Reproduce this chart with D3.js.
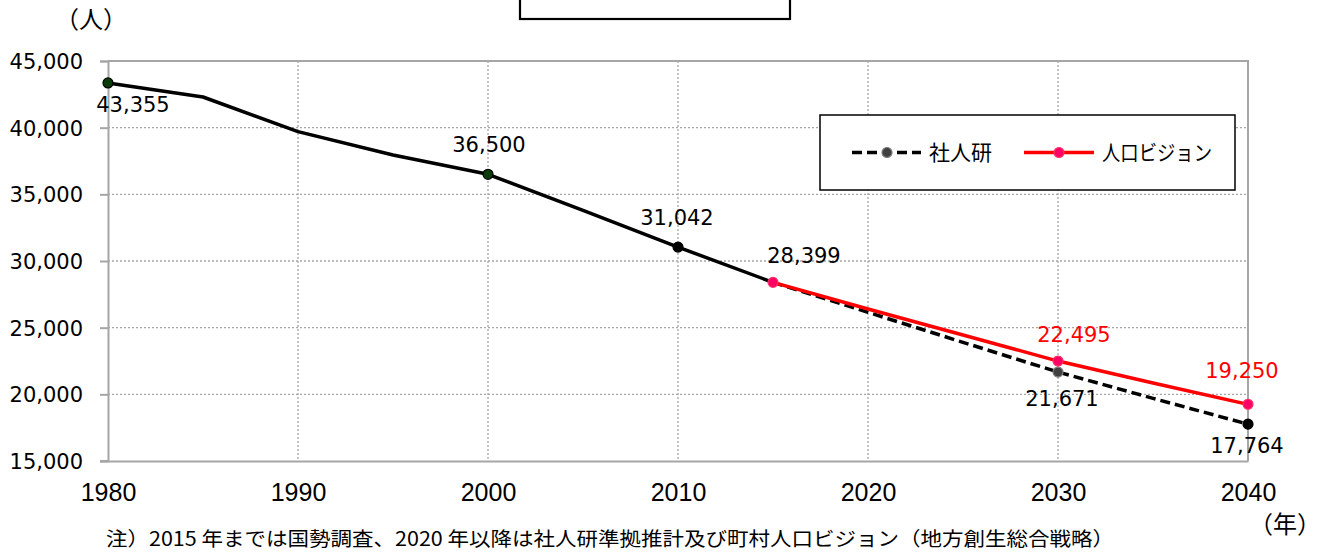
<!DOCTYPE html>
<html><head><meta charset="utf-8">
<script src="https://cdn.jsdelivr.net/npm/d3@7"></script>
<style>
html,body{margin:0;padding:0;background:#fff;overflow:hidden;}
svg{display:block;}
</style></head>
<body>
<svg id="chart" width="1321" height="554"></svg>
<script>
// ---- data ----
const histYears   = [1980, 1985, 1990, 1995, 2000, 2005, 2010, 2015];
const histValues  = [43355, 42300, 39700, 37950, 36500, 33800, 31042, 28399];
const projYears   = [2015, 2020, 2025, 2030, 2035, 2040];
const ipssValues  = [28399, 26150, 23900, 21671, 19700, 17764];   // 社人研
const visionValues= [28399, 26400, 24450, 22495, 20850, 19250];   // 人口ビジョン
const yTicks = [15000, 20000, 25000, 30000, 35000, 40000, 45000];
const xTicks = [1980, 1990, 2000, 2010, 2020, 2030, 2040];
const seriesNames = ["社人研", "人口ビジョン"];
const unitY = "（人）";
const unitX = "（年）";
const note = "注）2015 年までは国勢調査、2020 年以降は社人研準拠推計及び町村人口ビジョン（地方創生総合戦略）";

// ---- layout ----
const svg = d3.select("#chart");
const x = d3.scaleLinear().domain([1980, 2040]).range([108, 1248]);
const y = d3.scaleLinear().domain([15000, 45000]).range([461, 61]);
const numFont = "'DejaVu Sans', Verdana, sans-serif";
const jpFont = "'Noto Sans CJK JP', sans-serif";
const fmt = d3.format(",");
const gridCol = "#a6a6a6";

// title box (clipped at top)
svg.append("rect").attr("x", 520).attr("y", -40).attr("width", 270).attr("height", 59)
  .attr("fill", "none").attr("stroke", "#000").attr("stroke-width", 2.2);

// grid
const g = svg.append("g");
g.selectAll(".hg").data(yTicks.filter(v => v > 15000 && v < 45000)).join("line")
  .attr("x1", x(1980)).attr("x2", x(2040)).attr("y1", d => y(d)).attr("y2", d => y(d))
  .attr("stroke", gridCol).attr("stroke-width", 1.3).attr("stroke-dasharray", "2,2");
g.selectAll(".vg").data(xTicks.filter(v => v > 1980 && v < 2040)).join("line")
  .attr("y1", y(45000)).attr("y2", y(15000)).attr("x1", d => x(d)).attr("x2", d => x(d))
  .attr("stroke", gridCol).attr("stroke-width", 1.3).attr("stroke-dasharray", "2,2");

// frame: top & right
svg.append("path")
  .attr("d", `M${x(1980)},${y(45000)}H${x(2040)}V${y(15000)}`)
  .attr("fill", "none").attr("stroke", gridCol).attr("stroke-width", 2);

// axes
const yAxis = d3.axisLeft(y).tickValues(yTicks).tickFormat(fmt).tickSize(8).tickPadding(17);
const ya = svg.append("g").attr("transform", `translate(${x(1980)},0)`).call(yAxis);
ya.select(".domain").attr("stroke", gridCol).attr("stroke-width", 2);
ya.selectAll(".tick line").attr("stroke", gridCol).attr("stroke-width", 2);
ya.selectAll(".tick text").attr("font-family", numFont).attr("font-size", 21).attr("fill", "#000")
  .attr("dy", "0.36em");

const xAxis = d3.axisBottom(x).tickValues(xTicks).tickFormat(d3.format("d")).tickSize(0).tickPadding(22);
const xa = svg.append("g").attr("transform", `translate(0,${y(15000)})`).call(xAxis);
xa.select(".domain").attr("stroke", gridCol).attr("stroke-width", 2);
xa.selectAll(".tick text").attr("font-family", "'Liberation Sans Narrow', 'Liberation Sans', sans-serif")
  .attr("font-size", 25).attr("fill", "#000");
svg.append("line").attr("x1", 100).attr("x2", x(1980)).attr("y1", y(15000)).attr("y2", y(15000))
  .attr("stroke", gridCol).attr("stroke-width", 2);

// lines
const line = d3.line().x(d => x(d[0])).y(d => y(d[1]));
const hist = d3.zip(histYears, histValues);
const ipss = d3.zip(projYears, ipssValues);
const vis  = d3.zip(projYears, visionValues);

svg.append("path").attr("d", line(hist)).attr("fill", "none").attr("stroke", "#000")
  .attr("stroke-width", 3.5).attr("stroke-linejoin", "round");
svg.append("path").attr("d", line(ipss)).attr("fill", "none").attr("stroke", "#000")
  .attr("stroke-width", 3.5).attr("stroke-dasharray", "10,5");
svg.append("path").attr("d", line(vis)).attr("fill", "none").attr("stroke", "#ff0000")
  .attr("stroke-width", 3.5);

// markers
const dot = (px, py, fill, stroke) => svg.append("circle").attr("cx", px).attr("cy", py).attr("r", 5)
  .attr("fill", fill).attr("stroke", stroke).attr("stroke-width", 1.2);
const hv = yr => histValues[histYears.indexOf(yr)];
const iv = yr => ipssValues[projYears.indexOf(yr)];
const vv = yr => visionValues[projYears.indexOf(yr)];
dot(x(1980), y(hv(1980)), "#0b3d0b", "#000");
dot(x(2000), y(hv(2000)), "#0b3d0b", "#000");
dot(x(2010), y(hv(2010)), "#000", "#000");
dot(x(2030), y(iv(2030)), "#404040", "#808080");
dot(x(2040), y(iv(2040)), "#000", "#000");
dot(x(2015), y(vv(2015)), "#ff0066", "#ff3366");
dot(x(2030), y(vv(2030)), "#ff0066", "#ff3366");
dot(x(2040), y(vv(2040)), "#ff0066", "#ff3366");

// data labels
const label = (px, py, dx, dy, text, col) => svg.append("text").attr("x", px + dx).attr("y", py + dy)
  .attr("text-anchor", "middle").attr("font-family", numFont).attr("font-size", 21).attr("fill", col).text(text);
label(x(1980), y(hv(1980)), 25, 29, fmt(hv(1980)), "#000");
label(x(2000), y(hv(2000)), 1, -22, fmt(hv(2000)), "#000");
label(x(2010), y(hv(2010)), -1, -22, fmt(hv(2010)), "#000");
label(x(2015), y(hv(2015)), 31, -19, fmt(hv(2015)), "#000");
label(x(2030), y(iv(2030)), 4, 34, fmt(iv(2030)), "#000");
label(x(2040), y(iv(2040)), -1, 29, fmt(iv(2040)), "#000");
label(x(2030), y(vv(2030)), 16, -19, fmt(vv(2030)), "#ff0000");
label(x(2040), y(vv(2040)), -6, -26, fmt(vv(2040)), "#ff0000");

// legend
const lg = svg.append("g");
lg.append("rect").attr("x", 820).attr("y", 115).attr("width", 415).attr("height", 75)
  .attr("fill", "#fff").attr("stroke", "#000").attr("stroke-width", 1.5);
lg.append("line").attr("x1", 852).attr("x2", 921).attr("y1", 152.5).attr("y2", 152.5)
  .attr("stroke", "#000").attr("stroke-width", 3.5).attr("stroke-dasharray", "10,5");
lg.append("circle").attr("cx", 887).attr("cy", 152.5).attr("r", 5).attr("fill", "#404040")
  .attr("stroke", "#808080").attr("stroke-width", 1.2);
lg.append("text").attr("x", 929).attr("y", 160).attr("font-family", jpFont).attr("font-size", 21)
  .attr("fill", "#000").text(seriesNames[0]);
lg.append("line").attr("x1", 1024).attr("x2", 1094).attr("y1", 152.5).attr("y2", 152.5)
  .attr("stroke", "#ff0000").attr("stroke-width", 3.5);
lg.append("circle").attr("cx", 1059).attr("cy", 152.5).attr("r", 5).attr("fill", "#ff0066")
  .attr("stroke", "#ff3366").attr("stroke-width", 1.2);
lg.append("text").attr("x", 1102).attr("y", 160).attr("font-family", jpFont).attr("font-size", 21)
  .attr("fill", "#000").attr("textLength", 110).attr("lengthAdjust", "spacingAndGlyphs").text(seriesNames[1]);

// unit labels & note
svg.append("text").attr("x", 55).attr("y", 28).attr("font-family", jpFont).attr("font-size", 24)
  .attr("fill", "#000").text(unitY);
svg.append("text").attr("x", 1249).attr("y", 533).attr("font-family", jpFont).attr("font-size", 24)
  .attr("fill", "#000").text(unitX);
svg.append("text").attr("x", 106).attr("y", 546).attr("font-family", jpFont).attr("font-size", 19.5)
  .attr("fill", "#000").attr("textLength", 1008).attr("lengthAdjust", "spacingAndGlyphs").text(note);
</script>
</body></html>
